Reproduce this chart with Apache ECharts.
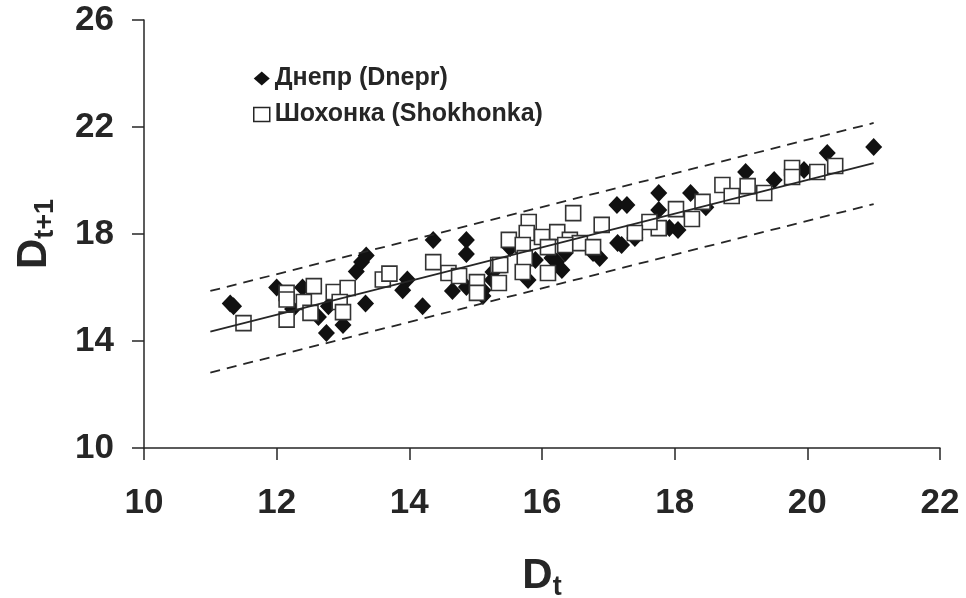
<!DOCTYPE html>
<html>
<head>
<meta charset="UTF-8" />
<script src="https://cdn.jsdelivr.net/npm/echarts@6/dist/echarts.min.js"></script>
<style type="text/css">
    *{ margin: 0; padding: 0; }
    body{ background: #fff; }
    #chart{ width: 966px; height: 598px; }
</style>
</head>
<body>
<div id="chart"></div>
<script type="text/javascript">
    // Dnepr, D(t) -> D(t+1)
    var dneprX = [11.3, 11.35, 12.0, 12.39, 12.24, 12.63, 12.75, 12.78, 13.0, 13.2,
                  13.28, 13.35, 13.34, 13.97, 13.9, 14.2, 14.36, 14.86, 14.86, 14.65,
                  14.86, 15.25, 15.11, 17.13, 17.28, 17.14, 16.87, 16.77, 16.15, 16.22,
                  15.79, 15.9, 15.52, 15.26, 15.11, 16.3, 16.35, 19.07, 17.76, 18.24,
                  17.76, 18.47, 18.05, 17.92, 17.4, 17.2, 21.0, 20.3, 19.95, 19.5];
    var dneprY = [15.4, 15.3, 16.0, 16.0, 15.2, 14.9, 14.3, 15.3, 14.6, 16.6,
                  16.95, 17.2, 15.4, 16.3, 15.9, 15.3, 17.78, 17.78, 17.25, 15.87,
                  16.02, 16.28, 15.68, 19.08, 19.08, 17.66, 17.1, 17.29, 17.1, 16.96,
                  16.28, 17.03, 17.48, 16.58, 15.9, 16.65, 17.29, 20.32, 19.53, 19.53,
                  18.9, 19.0, 18.15, 18.22, 17.85, 17.59, 21.25, 21.03, 20.39, 20.02];
    // Shokhonka
    var shokX = [11.5, 12.15, 12.15, 12.15, 12.56, 12.41, 12.51, 12.86, 13.07, 12.95,
                 13.0, 13.6, 13.7, 14.36, 14.59, 14.75, 15.02, 15.02, 15.34, 16.47,
                 15.8, 15.77, 15.5, 15.71, 16.0, 16.23, 16.09, 16.42, 16.57, 16.77,
                 16.9, 15.74, 15.71, 15.37, 15.35, 16.09, 16.35, 18.72, 18.86, 19.1,
                 19.35, 18.42, 18.02, 18.26, 17.76, 17.62, 17.4, 19.77, 19.77, 20.15, 20.42];
    var shokY = [14.67, 15.8, 15.55, 14.8, 16.05, 15.46, 15.05, 15.83, 15.98, 15.46,
                 15.08, 16.3, 16.52, 16.95, 16.54, 16.43, 16.2, 15.8, 16.84, 18.78,
                 18.45, 18.04, 17.78, 17.59, 17.89, 18.07, 17.51, 17.78, 17.66, 17.51,
                 18.34, 17.1, 16.58, 16.84, 16.17, 16.54, 17.59, 19.83, 19.42, 19.79,
                 19.53, 19.2, 18.93, 18.56, 18.22, 18.45, 18.04, 20.47, 20.13, 20.32, 20.54];
    // regression line and confidence bounds
    var fitX = [11, 21];
    var fitY = [14.35, 20.65];
    var upperY = [15.87, 22.15];
    var lowerY = [12.82, 19.12];

    var xTicks = [10, 12, 14, 16, 18, 20, 22];
    var yTicks = [10, 14, 18, 22, 26];

    function pairs(xs, ys){
        var out = [];
        for(var i = 0; i < xs.length; i++){
            out.push([xs[i], ys[i]]);
        }
        return out;
    }

    var font = '"Liberation Sans", Arial, sans-serif';
    var ink = '#262626';

    var myChart = echarts.init(document.getElementById('chart'), null, {renderer: 'canvas'});
    var option = {
        backgroundColor: '#fff',
        animation: false,
        grid: { left: 144, right: 26, top: 20, bottom: 150, containLabel: false, outerBoundsMode: 'none' },
        legend: {
            orient: 'vertical',
            left: 248,
            top: 61,
            itemGap: 11,
            itemWidth: 16,
            itemHeight: 14,
            textStyle: { fontFamily: font, fontWeight: 'bold', fontSize: 25, color: ink },
            data: [
                { name: 'Днепр (Dnepr)', icon: 'diamond' },
                { name: 'Шохонка (Shokhonka)', icon: 'rect',
                  itemStyle: { color: '#fff', borderColor: ink, borderWidth: 1.5 } }
            ]
        },
        xAxis: {
            type: 'value', min: xTicks[0], max: xTicks[xTicks.length - 1], interval: 2,
            name: '{d|D}{s|t}', nameLocation: 'middle', nameGap: 104,
            nameTextStyle: {
                rich: {
                    d: { fontFamily: font, fontWeight: 'bold', fontSize: 42, color: ink },
                    s: { fontFamily: font, fontWeight: 'bold', fontSize: 27, color: ink, padding: [22, 0, 0, 0] }
                }
            },
            axisLine: { lineStyle: { color: ink, width: 1.5 } },
            axisTick: { inside: false, length: 12, lineStyle: { color: ink, width: 1.5 } },
            axisLabel: { margin: 38, fontFamily: font, fontWeight: 'bold', fontSize: 35, color: ink },
            splitLine: { show: false }
        },
        yAxis: {
            type: 'value', min: yTicks[0], max: yTicks[yTicks.length - 1], interval: 4,
            name: '{d|D}{s|t+1}', nameLocation: 'middle', nameGap: 85, nameRotate: 90,
            nameTextStyle: {
                rich: {
                    d: { fontFamily: font, fontWeight: 'bold', fontSize: 42, color: ink },
                    s: { fontFamily: font, fontWeight: 'bold', fontSize: 27, color: ink, padding: [22, 0, 0, 0] }
                }
            },
            axisLine: { show: true, lineStyle: { color: ink, width: 1.5 } },
            axisTick: { show: true, inside: false, length: 12, lineStyle: { color: ink, width: 1.5 } },
            axisLabel: { margin: 30, fontFamily: font, fontWeight: 'bold', fontSize: 35, color: ink },
            splitLine: { show: false }
        },
        series: [
            {
                name: 'Днепр (Dnepr)', type: 'scatter', symbol: 'diamond', symbolSize: [17, 18],
                itemStyle: { color: '#111', opacity: 1 },
                data: pairs(dneprX, dneprY), z: 2
            },
            {
                name: 'Шохонка (Shokhonka)', type: 'scatter', symbol: 'rect', symbolSize: 15,
                itemStyle: { color: '#fff', borderColor: '#333', borderWidth: 1.6, opacity: 1 },
                data: pairs(shokX, shokY), z: 3
            },
            {
                name: 'fit', type: 'line', symbol: 'none', silent: true, z: 4,
                lineStyle: { color: ink, width: 1.6 },
                data: pairs(fitX, fitY)
            },
            {
                name: 'upper', type: 'line', symbol: 'none', silent: true, z: 4,
                lineStyle: { color: ink, width: 1.8, type: [10, 7] },
                data: pairs(fitX, upperY)
            },
            {
                name: 'lower', type: 'line', symbol: 'none', silent: true, z: 4,
                lineStyle: { color: ink, width: 1.8, type: [10, 7] },
                data: pairs(fitX, lowerY)
            }
        ]
    };
    myChart.setOption(option);
</script>
</body>
</html>
